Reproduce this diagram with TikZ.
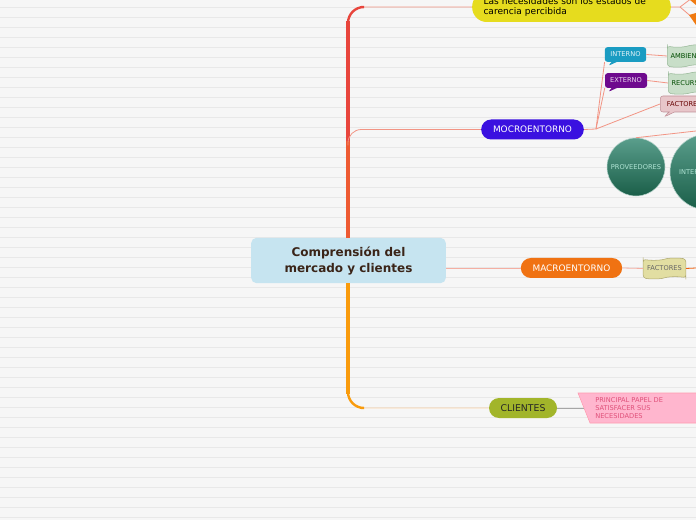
\documentclass[tikz,border=0pt]{standalone}
\usepackage{fontspec}
\setmainfont{DejaVu Sans}
\usetikzlibrary{calc,positioning,shapes.symbols,shapes.callouts}

\definecolor{paper}{HTML}{F6F6F6}
\definecolor{rule}{HTML}{E8E8E8}
\definecolor{rootfill}{HTML}{C6E4F0}
\definecolor{roottext}{HTML}{3A2418}
\definecolor{trunkred}{HTML}{E8453C}
\definecolor{trunkmid}{HTML}{EE5A32}
\definecolor{trunkorange}{HTML}{F99B0C}
\definecolor{needfill}{HTML}{E6DC1E}
\definecolor{mocrofill}{HTML}{3A10E0}
\definecolor{macrofill}{HTML}{F07212}
\definecolor{clientfill}{HTML}{A2B52A}
\definecolor{internofill}{HTML}{1A9CC2}
\definecolor{externofill}{HTML}{6E0A8E}
\definecolor{greenfill}{HTML}{C8DEC8}
\definecolor{greenrim}{HTML}{98B898}
\definecolor{pinkfill}{HTML}{E8C6CA}
\definecolor{pinkrim}{HTML}{C09098}
\definecolor{khaki}{HTML}{E2DEA2}
\definecolor{khakirim}{HTML}{B0AA70}
\definecolor{balltop}{HTML}{5A9E8C}
\definecolor{ballbot}{HTML}{1A5E48}
\definecolor{balltext}{HTML}{B0E4D4}
\definecolor{papelfill}{HTML}{FFB6CE}
\definecolor{papeltext}{HTML}{E0507A}
\definecolor{salmon}{HTML}{F29484}
\definecolor{peach}{HTML}{FDD3A6}
\definecolor{flagorange}{HTML}{F07A10}

\begin{document}
\begin{tikzpicture}[x=0.75pt,y=-0.75pt,
    every node/.style={font=\fontsize{5}{6}\selectfont},
    pill/.style={rectangle,rounded corners=7.5pt,minimum height=15pt,inner sep=0pt,
                 font=\fontsize{6.7}{8}\selectfont},
    tag/.style={rectangle callout,rounded corners=2pt,minimum width=31pt,minimum height=11pt,
                inner sep=0pt,callout pointer width=4pt},
    wave/.style={tape,tape bend height=1.5pt,rounded corners=2pt,inner xsep=2.5pt,inner ysep=0pt,anchor=west},
    ball/.style={circle,draw=white!55!balltop,line width=0.4pt,top color=balltop,
                 bottom color=ballbot,text=balltext,inner sep=0pt},
    link/.style={line width=0.6pt}]
        % paper
        \useasboundingbox (0,0) rectangle (696,520);
        \clip (0,0) rectangle (696,520);
        \fill[paper] (0,0) rectangle (696,520);
        \foreach \yy in {7,17,...,517}
          \draw[rule,line width=0.6pt] (0,\yy) -- (696,\yy);
        % main topics
        \node[rectangle,rounded corners=4pt,fill=rootfill,text=roottext,minimum width=146pt,
              minimum height=34pt,align=center,font=\bfseries\fontsize{9}{12}\selectfont]
              (root) at (348.5,260.5) {Comprensión del\\mercado y clientes};
        \node[pill,rounded corners=11pt,fill=needfill,minimum width=149pt,minimum height=22.5pt,
              text width=132pt,align=left,font=\fontsize{6.8}{8.2}\selectfont]
              (needs) at (571.5,7) {Las necesidades son los estados de\\carencia percibida};
        \node[pill,fill=mocrofill,text=white,minimum width=77pt] (mocro) at (532.5,129.5) {MOCROENTORNO};
        \node[pill,fill=macrofill,text=white,minimum width=76pt] (macro) at (571.5,268) {MACROENTORNO};
        \node[pill,fill=clientfill,text=black!85,minimum width=51pt,font=\fontsize{7}{8}\selectfont]
              (clientes) at (523,408) {CLIENTES};
        % microentorno subtopics
        \node[tag,fill=internofill,text=white!88!internofill,callout absolute pointer={(608,66)}]
              (interno) at (625.5,54.5) {INTERNO};
        \node[tag,fill=externofill,text=white!85!externofill,minimum width=31.5pt,
              callout absolute pointer={(608,92)}] (externo) at (626,80.5) {EXTERNO};
        \node[wave,fill=greenfill,draw=greenrim,text=black!70!green,minimum height=16.5pt]
              (ambiente) at (667,56) {AMBIENTE};
        \node[wave,fill=greenfill,draw=greenrim,text=black!70!green,minimum height=16.5pt]
              (recursos) at (668,83) {RECURSOS};
        \node[tag,fill=pinkfill,draw=pinkrim,text=black!60!red,anchor=west,inner xsep=5pt,
              minimum height=12pt,callout absolute pointer={(664,117)}] (factint) at (660,104) {FACTORES};
        \node[ball,minimum size=43.5pt] (prov) at (636,167) {PROVEEDORES};
        \node[ball,minimum size=57pt] (inter) at (708,172) {INTERMEDIARIOS};
        % macroentorno subtopic
        \node[wave,fill=khaki,draw=khakirim,text=black!60,minimum width=32pt,minimum height=15.5pt,
              anchor=center] (factext) at (664.5,268.5) {FACTORES};
        % trunk
        \coordinate (tr) at (348,0);
        \draw[trunkred,line width=3pt] (tr |- root.north) -- ($(tr |- needs.west)+(0,14)$);
        \draw[salmon,link,rounded corners=12pt] ($(tr |- needs.west)+(0,20)$) |- (needs.west);
        \draw[trunkred,line width=1.8pt,rounded corners=12pt]
              ($(tr |- needs.west)+(0,20)$) |- ($(tr |- needs.west)+(13,0)$);
        \draw[trunkmid,line width=3pt] (tr |- root.north) -- ($(tr |- mocro.west)+(0,12)$);
        \draw[salmon,link,rounded corners=10pt] ($(tr |- mocro.west)+(0,16)$) |- (mocro.west);
        \draw[trunkorange,line width=3pt] (tr |- root.south) -- ($(tr |- clientes.west)+(0,-14)$);
        \draw[peach,link,rounded corners=12pt] ($(tr |- clientes.west)+(0,-20)$) |- (clientes.west);
        \draw[trunkorange,line width=1.8pt,rounded corners=12pt]
              ($(tr |- clientes.west)+(0,-20)$) |- ($(tr |- clientes.west)+(13,0)$);
        % needs to the right
        \coordinate (needsknee) at (680,7);
        \coordinate (needsup) at (692,-2);
        \coordinate (needsdown) at (694,19);
        \draw[salmon,link] (needs.east) -- (needsknee) -- (needsup);
        \draw[salmon,link] (needsknee) -- (needsdown);
        \fill[flagorange] (690,0) -- (696,-3) -- (696,5) -- cycle;
        \fill[flagorange] (689,15) -- (696,13) -- (696,25) -- cycle;
        % microentorno links
        \coordinate (fan) at (596,129);
        \draw[salmon,link] (mocro.east) -- (fan);
        \draw[salmon,link] (fan) -- (interno.south west);
        \draw[salmon,link] (fan) -- (externo.south west);
        \draw[salmon,link] (fan) -- (factint.west);
        \draw[salmon,link] (interno.east) -- (ambiente.west);
        \draw[salmon,link] (externo.east) -- (recursos.west);
        \coordinate (provout) at (696,131);
        \draw[salmon,link] (prov.north) -- (provout);
        % macroentorno links
        \draw[salmon!75,link] (root.east |- macro.west) -- (macro.west);
        \draw[salmon!75,link] (macro.east) -- (factext.west);
        \coordinate (factout) at (696,268);
        \draw[macrofill!85!red,link] (factext.east) -- (factout);
        % clientes
        \coordinate (papeledge) at (584,408);
        \draw[gray!70,link] (clientes.east) -- (papeledge);
        \fill[papelfill,draw=papelfill!85!red,line width=0.4pt] (578,393) -- (700,393) -- (700,423) -- (590,423) -- cycle;
        \node[anchor=north west,inner sep=0pt,align=left,text=papeltext,font=\fontsize{5}{6}\selectfont]
              (papel) at (595,397) {PRINCIPAL PAPEL DE\\SATISFACER SUS\\NECESIDADES};
\end{tikzpicture}
\end{document}
